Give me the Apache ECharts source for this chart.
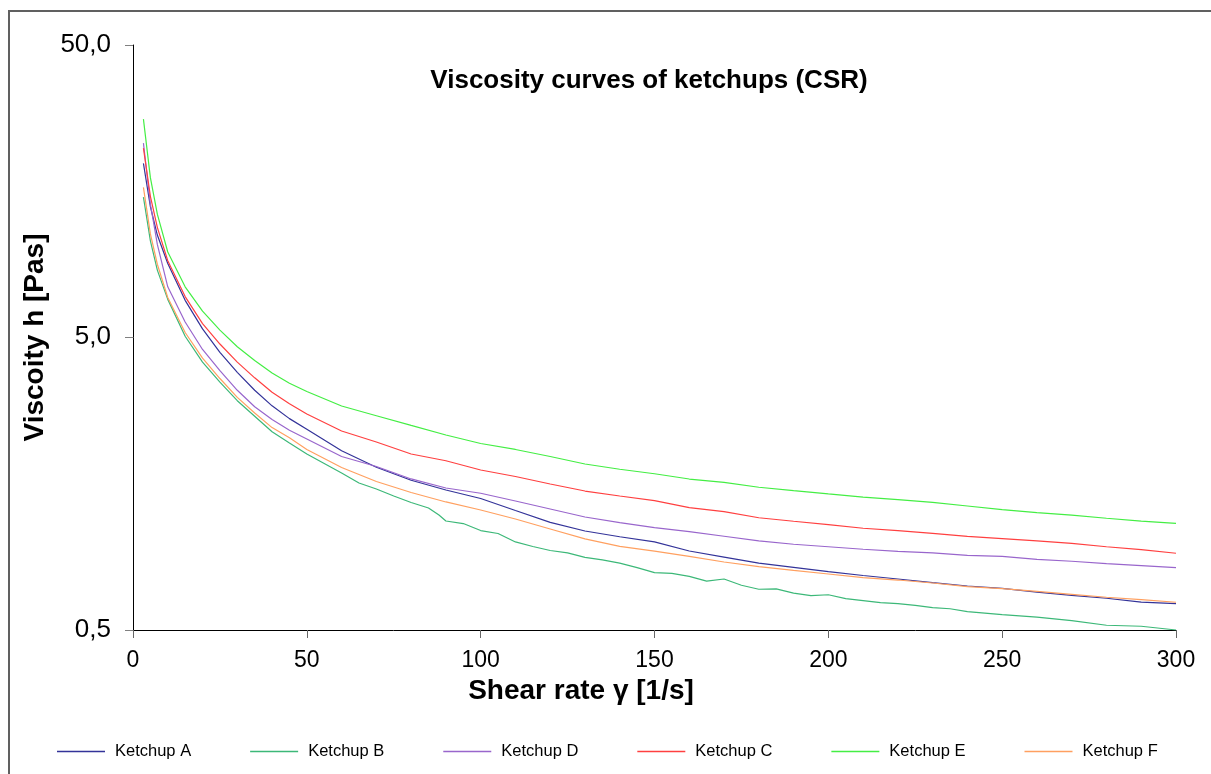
<!DOCTYPE html>
<html>
<head>
<meta charset="utf-8">
<title>Viscosity curves of ketchups (CSR)</title>
<script src="https://cdn.jsdelivr.net/npm/echarts@6/dist/echarts.min.js"></script>
<style>
  html, body { margin: 0; padding: 0; background: #ffffff; }
  #chart { width: 1211px; height: 774px; }
</style>
</head>
<body>
<div id="chart"></div>
<script>
// Shear rate sampling points, 1/s
const shearRate = [3, 5, 7, 10, 15, 20, 25, 30, 35, 40, 45, 50, 60, 70, 80, 90, 100, 110, 120, 130,
  140, 150, 160, 170, 180, 190, 200, 210, 220, 230, 240, 250, 260, 270, 280, 290, 300];
// Ketchup B was logged on a finer grid
const shearRateB = [3, 5, 7, 10, 15, 20, 25, 30, 35, 40, 45, 50, 55, 60, 65, 70, 75, 80, 85, 88,
  90, 95, 100, 105, 110, 115, 120, 125, 130, 135, 140, 145, 150, 155, 160, 165, 170, 175, 180, 185,
  190, 195, 200, 205, 210, 215, 220, 225, 230, 235, 240, 250, 260, 270, 280, 290, 300];

// Viscosity, Pas
const ketchupA = [19.7, 14.0, 11.2, 8.95, 6.7, 5.35, 4.45, 3.80, 3.30, 2.92, 2.64, 2.43, 2.05, 1.80, 1.625, 1.505, 1.408, 1.281, 1.166, 1.090,
  1.042, 1.000, 0.931, 0.888, 0.846, 0.818, 0.792, 0.768, 0.747, 0.726, 0.707, 0.694, 0.674, 0.657, 0.642, 0.623, 0.615];
const ketchupB = [15.1, 10.7, 8.5, 6.75, 5.05, 4.12, 3.52, 3.04, 2.69, 2.38, 2.18, 1.998, 1.855, 1.72, 1.59, 1.517, 1.436, 1.364, 1.306, 1.236,
  1.179, 1.156, 1.094, 1.069, 1.000, 0.965, 0.935, 0.917, 0.886, 0.868, 0.846, 0.817, 0.785, 0.781, 0.763, 0.735, 0.747, 0.711, 0.689, 0.691,
  0.668, 0.655, 0.660, 0.640, 0.630, 0.620, 0.615, 0.607, 0.596, 0.591, 0.578, 0.564, 0.553, 0.538, 0.519, 0.515, 0.500];
const ketchupD = [23.1, 14.3, 10.4, 7.45, 5.65, 4.55, 3.85, 3.30, 2.90, 2.62, 2.41, 2.249, 1.960, 1.811, 1.642, 1.529, 1.467, 1.380, 1.296, 1.217,
  1.164, 1.119, 1.084, 1.046, 1.008, 0.982, 0.963, 0.944, 0.929, 0.917, 0.900, 0.893, 0.872, 0.859, 0.843, 0.830, 0.817];
const ketchupC = [22.2, 15.2, 11.9, 9.15, 6.90, 5.58, 4.75, 4.12, 3.64, 3.25, 2.97, 2.738, 2.395, 2.196, 1.998, 1.895, 1.762, 1.674, 1.578, 1.493,
  1.436, 1.384, 1.31, 1.27, 1.21, 1.177, 1.146, 1.114, 1.093, 1.070, 1.045, 1.026, 1.008, 0.989, 0.963, 0.941, 0.915];
const ketchupE = [27.9, 17.6, 13.2, 9.8, 7.45, 6.15, 5.30, 4.65, 4.17, 3.78, 3.49, 3.268, 2.916, 2.70, 2.502, 2.321, 2.171, 2.071, 1.960, 1.847,
  1.772, 1.711, 1.641, 1.599, 1.538, 1.497, 1.459, 1.424, 1.395, 1.366, 1.327, 1.289, 1.259, 1.236, 1.205, 1.179, 1.158];
const ketchupF = [16.3, 11.3, 8.9, 6.85, 5.2, 4.25, 3.62, 3.12, 2.76, 2.46, 2.27, 2.071, 1.797, 1.609, 1.476, 1.370, 1.286, 1.198, 1.107, 1.024,
  0.966, 0.930, 0.892, 0.854, 0.824, 0.799, 0.777, 0.755, 0.741, 0.724, 0.704, 0.692, 0.678, 0.662, 0.647, 0.635, 0.622];

const seriesNames = ['Ketchup A', 'Ketchup B', 'Ketchup D', 'Ketchup C', 'Ketchup E', 'Ketchup F'];
const seriesColors = ['#333399', '#3cb878', '#9966cc', '#ff4040', '#44ee44', '#ffa060'];
const seriesX = [shearRate, shearRateB, shearRate, shearRate, shearRate, shearRate];
const seriesY = [ketchupA, ketchupB, ketchupD, ketchupC, ketchupE, ketchupF];

const yTicks = [0.5, 5, 50];
const xTicks = [0, 50, 100, 150, 200, 250, 300];

const pairs = (xs, ys) => xs.map((x, i) => [x, ys[i]]);
const commaDecimal = v => Number(v).toFixed(1).replace('.', ',');

const FONT = "'Liberation Sans', Arial, sans-serif";

const chart = echarts.init(document.getElementById('chart'), null, { renderer: 'canvas' });

chart.setOption({
  backgroundColor: '#ffffff',
  animation: false,
  title: {
    text: 'Viscosity curves of ketchups (CSR)',
    left: 644,
    top: 63,
    textAlign: 'center',
    textStyle: {
      fontFamily: FONT,
      fontWeight: 'bold',
      fontSize: 26,
      color: '#000000'
    }
  },
  graphic: [{
    type: 'rect',
    silent: true,
    z: -10,
    shape: { x: 9, y: 11, width: 1400, height: 1000 },
    style: { fill: null, stroke: '#606060', lineWidth: 2 }
  }],
  legend: {
    left: 57,
    top: 743,
    padding: 0,
    icon: 'rect',
    itemWidth: 48,
    itemHeight: 1.6,
    itemGap: 59,
    data: seriesNames,
    textStyle: {
      fontFamily: FONT,
      fontSize: 16.5,
      color: '#000000',
      padding: [0, 0, 0, 5]
    }
  },
  grid: {
    left: 133,
    right: 35,
    top: 45,
    bottom: 144,
    containLabel: false
  },
  xAxis: {
    type: 'value',
    min: xTicks[0],
    max: xTicks[xTicks.length - 1],
    interval: 50,
    name: 'Shear rate \u03b3 [1/s]',
    nameLocation: 'middle',
    nameGap: 46,
    nameTextStyle: {
      fontFamily: FONT,
      fontWeight: 'bold',
      fontSize: 28,
      color: '#000000',
      padding: [0, 147, 0, 0]
    },
    axisLine: { show: true, lineStyle: { color: '#000000', width: 1 } },
    axisTick: { show: true, length: 8, inside: false, lineStyle: { color: '#666666' } },
    axisLabel: {
      margin: 19,
      fontFamily: FONT,
      fontSize: 23,
      color: '#000000'
    },
    splitLine: { show: false }
  },
  yAxis: {
    type: 'log',
    logBase: 10,
    min: yTicks[0],
    max: yTicks[yTicks.length - 1],
    interval: 1,
    name: 'Viscoity h [Pas]',
    nameLocation: 'middle',
    nameRotate: 90,
    nameGap: 81,
    nameTextStyle: {
      fontFamily: FONT,
      fontWeight: 'bold',
      fontSize: 28,
      color: '#000000'
    },
    axisLine: { show: true, lineStyle: { color: '#000000', width: 1 } },
    axisTick: { show: true, length: 8, lineStyle: { color: '#808080' } },
    axisLabel: {
      margin: 22,
      fontFamily: FONT,
      fontSize: 26,
      color: '#000000',
      formatter: commaDecimal
    },
    splitLine: { show: false },
    minorTick: { show: false }
  },
  series: seriesNames.map((name, i) => ({
    name: name,
    type: 'line',
    data: pairs(seriesX[i], seriesY[i]),
    symbol: 'none',
    smooth: false,
    color: seriesColors[i],
    lineStyle: { color: seriesColors[i], width: 1.2 },
    z: 2
  }))
});
</script>
</body>
</html>
